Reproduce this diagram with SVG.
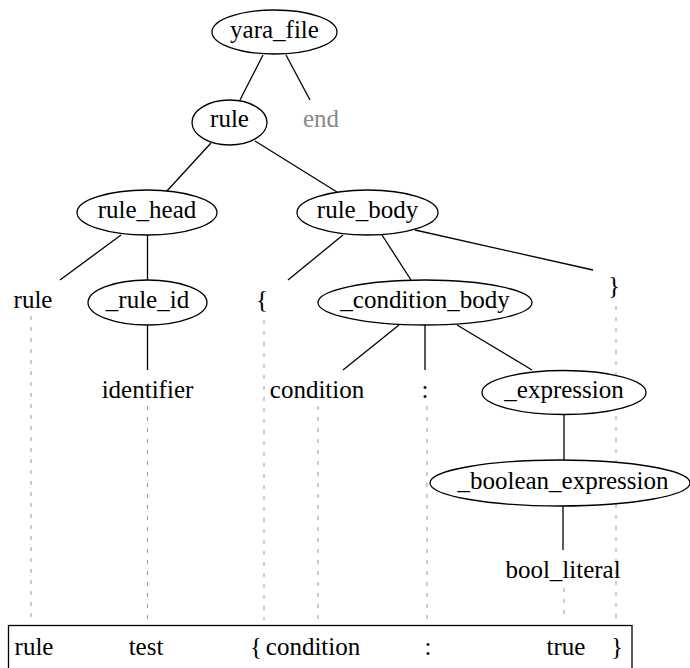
<svg xmlns="http://www.w3.org/2000/svg" width="690" height="668" viewBox="0 0 690 668">
<style>
text{font-family:'Liberation Serif','Times New Roman',Times,'Nimbus Roman','Noto Serif','DejaVu Serif',serif;font-size:25px;fill:#000;text-anchor:middle}
.n ellipse{fill:#fff;stroke:#000;stroke-width:1.3}
.e line{stroke:#000;stroke-width:1.3}
.d line{stroke:#999;stroke-width:1;stroke-dasharray:4 7}
.gray{fill:#888}
</style>
<rect width="690" height="668" fill="#fff"/>
<g class="d" id="dashes">
<line x1="31" y1="316" x2="31" y2="620"/>
<line x1="147.5" y1="406" x2="147.5" y2="620"/>
<line x1="264" y1="320" x2="264" y2="620"/>
<line x1="318" y1="406" x2="318" y2="620"/>
<line x1="427" y1="406" x2="427" y2="620"/>
<line x1="564" y1="588" x2="564" y2="620"/>
<line x1="616" y1="306" x2="616" y2="620"/>
</g>
<g class="e" id="connectors">
<line x1="263" y1="55" x2="240" y2="100"/>
<line x1="286" y1="55" x2="310" y2="100"/>
<line x1="211" y1="143" x2="166" y2="192"/>
<line x1="255" y1="141" x2="337" y2="192"/>
<line x1="121" y1="235" x2="60" y2="280"/>
<line x1="147.5" y1="234" x2="147.5" y2="280"/>
<line x1="147.5" y1="324" x2="147.5" y2="370"/>
<line x1="343" y1="235" x2="288" y2="280"/>
<line x1="382" y1="235" x2="411" y2="280"/>
<line x1="415" y1="230" x2="593" y2="270"/>
<line x1="399" y1="325" x2="343" y2="370"/>
<line x1="425" y1="324" x2="425" y2="370"/>
<line x1="457" y1="325" x2="532" y2="370"/>
<line x1="564" y1="414" x2="564" y2="460"/>
<line x1="563" y1="506" x2="563" y2="550"/>
</g>
<g class="n" id="yara_file"><ellipse cx="274.5" cy="32" rx="62.5" ry="22"/><text x="274.5" y="38">yara_file</text></g>
<g class="n" id="rule"><ellipse cx="229.5" cy="122.5" rx="37.5" ry="22.5"/><text x="229.5" y="127">rule</text></g>
<g id="end"><text class="gray" x="321" y="127">end</text></g>
<g class="n" id="rule_head"><ellipse cx="147" cy="212.5" rx="70" ry="22.5"/><text x="147" y="218">rule_head</text></g>
<g class="n" id="rule_body"><ellipse cx="367.5" cy="212.5" rx="70.5" ry="22.5"/><text x="367.5" y="218">rule_body</text></g>
<g id="rule_kw"><text x="33" y="308">rule</text></g>
<g class="n" id="rule_id"><ellipse cx="147.5" cy="302.5" rx="59.5" ry="22.5"/><text x="147.5" y="308">_rule_id</text></g>
<g id="lbrace"><text x="262" y="308">{</text></g>
<g class="n" id="condition_body"><ellipse cx="425" cy="302.5" rx="107" ry="22.5"/><text x="425" y="308">_condition_body</text></g>
<g id="rbrace"><text x="614" y="294">}</text></g>
<g id="identifier"><text x="147.5" y="398">identifier</text></g>
<g id="condition"><text x="317" y="398">condition</text></g>
<g id="colon"><text x="425" y="398">:</text></g>
<g class="n" id="expression"><ellipse cx="564" cy="392.5" rx="82" ry="22"/><text x="564" y="398">_expression</text></g>
<g class="n" id="boolean_expression"><ellipse cx="560" cy="483" rx="130" ry="23"/><text x="563" y="489">_boolean_expression</text></g>
<g id="bool_literal"><text x="563" y="578">bool_literal</text></g>
<g id="source">
<rect x="8.5" y="625.5" width="623.5" height="44" fill="none" stroke="#000" stroke-width="1.3"/>
<text x="34" y="655">rule</text>
<text x="146" y="655">test</text>
<text x="256" y="655">{</text>
<text x="313" y="655">condition</text>
<text x="428" y="655">:</text>
<text x="566" y="655">true</text>
<text x="617" y="655">}</text>
</g>
</svg>
